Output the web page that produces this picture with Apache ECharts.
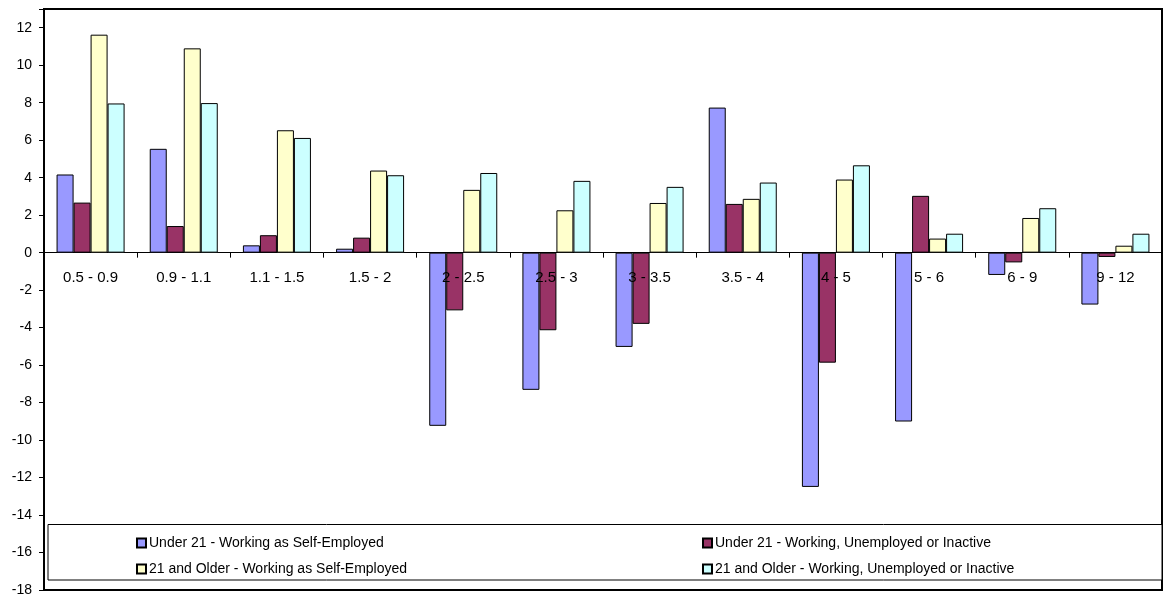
<!DOCTYPE html>
<html>
<head>
<meta charset="utf-8">
<script src="https://cdn.jsdelivr.net/npm/echarts@6/dist/echarts.min.js"></script>
<style>
  html, body { margin: 0; padding: 0; background: #fff; }
  #chart { width: 1163px; height: 597px; }
</style>
</head>
<body>
<div id="chart"></div>
<script>
// wage ranges on the x axis
var categories = ['0.5 - 0.9', '0.9 - 1.1', '1.1 - 1.5', '1.5 - 2', '2 - 2.5', '2.5 - 3',
  '3 - 3.5', '3.5 - 4', '4 - 5', '5 - 6', '6 - 9', '9 - 12'];

var seriesNames = [
  'Under 21 - Working as Self-Employed',
  'Under 21 - Working, Unemployed or Inactive',
  '21 and Older - Working as Self-Employed',
  '21 and Older - Working, Unemployed or Inactive'
];

var under21Self = [4.17, 5.54, 0.39, 0.21, -9.24, -7.32, -5.03, 7.74, -12.5, -9.01, -1.19, -2.77];
var under21Other = [2.67, 1.42, 0.93, 0.8, -3.08, -4.14, -3.8, 2.6, -5.87, 3.03, -0.52, -0.23];
var olderSelf = [11.63, 10.9, 6.53, 4.38, 3.35, 2.26, 2.65, 2.87, 3.9, 0.75, 1.85, 0.37];
var olderOther = [7.96, 7.98, 6.12, 4.13, 4.25, 3.83, 3.51, 3.74, 4.66, 1.01, 2.37, 1.01];

var yMin = -18, yMax = 13, yStep = 2;

var colors = ['#9999FF', '#993366', '#FFFFCC', '#CCFFFF'];
var values = [under21Self, under21Other, olderSelf, olderOther];
var font = 'Liberation Sans, Arial, sans-serif';

var chart = echarts.init(document.getElementById('chart'));

var series = values.map(function (d, i) {
  return {
    name: seriesNames[i],
    type: 'bar',
    data: d,
    barGap: '0%',
    barCategoryGap: '27%',
    itemStyle: { color: colors[i], borderColor: '#000', borderWidth: 1 }
  };
});

// legend entries laid out in a 2x2 grid like the original
var legendPos = [[136, 536], [702, 536], [136, 562], [702, 562]];
var legends = seriesNames.map(function (n, i) {
  return {
    data: [n],
    left: legendPos[i][0],
    top: legendPos[i][1],
    padding: 0,
    itemWidth: 9,
    itemHeight: 9,
    itemGap: 0,
    icon: 'rect',
    selectedMode: false,
    z: 10,
    textStyle: { fontFamily: font, fontSize: 14, color: '#000', padding: [0, 0, 0, -2] }
  };
});

var option = {
  animation: false,
  color: colors,
  grid: [{
    left: 44, right: 1, top: 9, bottom: 7, outerBoundsMode: 'none',
    show: true, borderColor: '#000', borderWidth: 2, backgroundColor: '#fff'
  }, {
    // upper half only: its bottom edge sits on the zero line, used for category labels
    left: 44, right: 1, top: 9, height: 244, outerBoundsMode: 'none'
  }],
  legend: legends,
  graphic: [{
    type: 'rect',
    z: 5,
    shape: { x: 48, y: 524.5, width: 1114, height: 55.5 },
    style: { fill: '#fff', stroke: '#000', lineWidth: 1 }
  }],
  xAxis: [{
    type: 'category',
    data: categories,
    axisLine: { onZero: true, lineStyle: { color: '#000', width: 1 } },
    axisTick: { show: true, length: 5, lineStyle: { color: '#000' } },
    axisLabel: { show: false },
    splitLine: { show: false }
  }, {
    type: 'category',
    gridIndex: 1,
    data: categories,
    position: 'bottom',
    z: 6,
    axisLine: { show: false },
    axisTick: { show: false },
    axisLabel: { interval: 0, margin: 17, fontFamily: font, fontSize: 15, color: '#000' },
    splitLine: { show: false }
  }],
  yAxis: [{
    type: 'value',
    min: yMin,
    max: yMax,
    interval: yStep,
    axisLine: { show: true, lineStyle: { color: '#000', width: 2 } },
    axisTick: { show: true, length: 5, lineStyle: { color: '#000' } },
    axisLabel: {
      margin: 12, fontFamily: font, fontSize: 14, color: '#000',
      formatter: function (v) { return v > 12 ? '' : v; }
    },
    splitLine: { show: false }
  }, {
    type: 'value',
    gridIndex: 1,
    show: false
  }],
  series: series
};
chart.setOption(option);
</script>
</body>
</html>
